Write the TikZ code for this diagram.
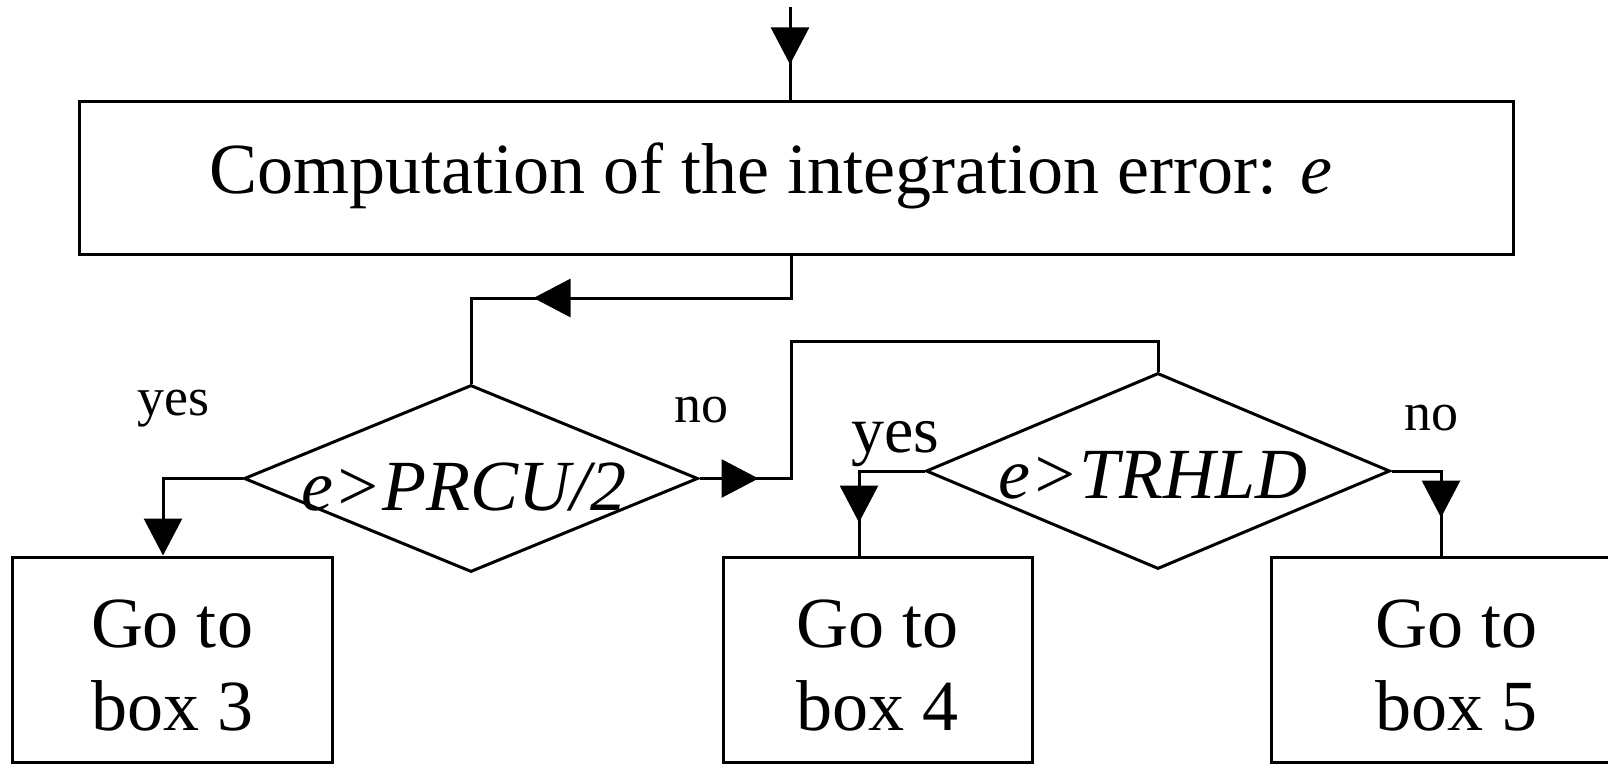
\documentclass[tikz,border=0pt]{standalone}
\usepackage{fontspec}
\setmainfont{Liberation Serif}
\usetikzlibrary{shapes.geometric,arrows.meta,decorations.markings,calc}
\begin{document}
\begin{tikzpicture}[x=1pt,y=-1pt,
  line width=3pt,
  box/.style={draw, line width=3pt, rectangle, inner sep=0pt},
  cond/.style={draw, line width=3pt, diamond, inner sep=0pt},
  big/.style={font=\fontsize{72}{83}\selectfont},
  small/.style={font=\fontsize{54}{60}\selectfont},
  lbl/.style={anchor=base west, inner sep=0pt},
  txt/.style={anchor=base, inner sep=0pt},
  boxtext/.style={big, align=center, inner sep=0pt, yshift=-6pt},
  endtip/.style={-{Triangle[width=38pt,length=37pt]}},
  midtip/.style={postaction={decorate},
    decoration={markings,
      mark=at position #1 with {\arrow{Triangle[width=38pt,length=37pt]}}}},
]
\useasboundingbox (0,0) rectangle (1608,764);

% process box and decisions
\node[box, minimum width=1434pt, minimum height=153pt] (main) at (796,177.5) {};
\node[big, txt] (maintext) at (771,193) {Computation of the integration error: \textit{e}};

\node[cond, minimum width=454pt, minimum height=187pt] (d1) at (471,478.5) {};
\node[big, txt] (d1text) at (464,510) {\textit{e>PRCU/2}};

\node[cond, minimum width=464pt, minimum height=196pt] (d2) at (1158,471) {};
\node[big, txt] (d2text) at (1153,498) {\textit{e>TRHLD}};

% target boxes
\node[box, minimum width=320pt, minimum height=205pt] (b3) at (172,659.5) {};
\node[boxtext] (b3text) at (b3.center) {Go to\\box 3};
\node[box, minimum width=309pt, minimum height=205pt] (b4) at (877.5,659.5) {};
\node[boxtext] (b4text) at (b4.center) {Go to\\box 4};
\node[box, minimum width=370pt, minimum height=205pt] (b5) at (1456,659.5) {};
\node[boxtext] (b5text) at (b5.center) {Go to\\box 5};

% branch labels
\node[small, lbl] (yes1) at (136,415) {yes};
\node[small, lbl] (no1) at (673,422) {no};
\node[font=\fontsize{66}{72}\selectfont, lbl] (yes2) at (850,452) {yes};
\node[small, lbl] (no2) at (1403,430) {no};

% connectors
\coordinate (in) at (790,7);
\draw[midtip=0.62] (in) -- (in |- main.north);

\coordinate (c1) at (791,298);
\coordinate (c2) at (471,298);
\draw[midtip=300pt] (c1 |- main.south) -- (c1) -- (c2) -- (d1.north);

\coordinate (y1) at (163,478.5);
\draw[endtip] (d1.west) -- (y1) -- (y1 |- b3.north);

\coordinate (n1) at (791,478.5);
\coordinate (n1t) at (791,341);
\coordinate (n1r) at (1158,341);
\draw[midtip=59pt] (d1.east) -- (n1) -- (n1t) -- (n1r) -- (d2.north);

\coordinate (y2) at (859,471);
\draw[midtip=117pt] (d2.west) -- (y2) -- (y2 |- b4.north);

\coordinate (n2) at (1441,471);
\draw[midtip=96pt] (d2.east) -- (n2) -- (n2 |- b5.north);
\end{tikzpicture}
\end{document}
